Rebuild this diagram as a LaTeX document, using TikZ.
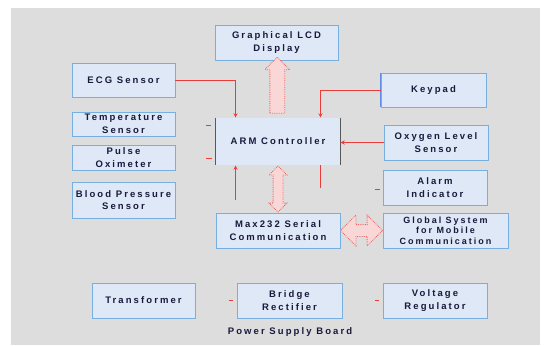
\documentclass[tikz,border=0pt]{standalone}
\usepackage{fontspec}
\setmainfont{Liberation Sans}[LetterSpace=22]
\usetikzlibrary{positioning,calc,shapes.arrows}

\definecolor{boxfill}{RGB}{223,232,246}
\definecolor{boxline}{RGB}{120,175,225}
\definecolor{bggray}{RGB}{221,221,221}
\definecolor{txtnavy}{RGB}{25,25,60}
\definecolor{wirered}{RGB}{235,60,60}
\definecolor{hollowfill}{RGB}{250,215,215}

\begin{document}
\begin{tikzpicture}[
    x=1pt, y=-1pt,
    block/.style={rectangle, draw=boxline, fill=boxfill, line width=0.9pt, align=center, text=txtnavy, font=\bfseries\fontsize{9.5}{12.5}\selectfont, inner sep=1pt},
    link/.style={->, >=stealth, wirered, line width=0.9pt},
    stub/.style={wirered, line width=1.6pt},
    hollow/.style={draw=wirered!80, densely dotted, fill=hollowfill, line width=0.8pt, inner sep=0pt}
]
    % background
    \useasboundingbox (0,0) rectangle (548,345);
    \fill[bggray] (11,8) rectangle (540,345);

    % top row
    \node[block, minimum width=123pt, minimum height=35pt] (lcd) at (276.5,42.5) {Graphical LCD\\Display};

    % sensors on the left
    \node[block, minimum width=103pt, minimum height=34pt] (ecg) at (123.5,80) {ECG Sensor};
    \node[block, minimum width=103pt, minimum height=24pt] (temp) at (123.5,124) {Temperature\\Sensor};
    \node[block, minimum width=103pt, minimum height=25pt] (pulse) at (123.5,157.5) {Pulse\\Oximeter};
    \node[block, minimum width=103pt, minimum height=36pt] (bp) at (123.5,200) {Blood Pressure\\Sensor};

    % controller and serial link
    \node[block, draw=none, minimum width=124pt, minimum height=47pt] (arm) at (278,141.5) {ARM Controller};
    \draw[gray!70!black, line width=1.2pt] (arm.north west) -- (arm.south west);
    \draw[gray!70!black, line width=1.2pt] (arm.north east) -- (arm.south east);
    \node[block, minimum width=124pt, minimum height=35pt] (max) at (278,230.5) {Max232 Serial\\Communication};

    % right column
    \node[block, minimum width=105pt, minimum height=34pt] (keypad) at (433.5,90) {Keypad};
    \draw[boxline!80!blue, line width=1.6pt] (keypad.north west) -- (keypad.south west);
    \node[block, minimum width=104pt, minimum height=35pt] (oxy) at (436,142.5) {Oxygen Level\\Sensor};
    \node[block, minimum width=104pt, minimum height=35pt] (alarm) at (435,187.5) {Alarm\\Indicator};
    \node[block, minimum width=125pt, minimum height=35pt, font=\bfseries\fontsize{9}{10.5}\selectfont] (gsm) at (445.5,230.5) {Global System\\for Mobile\\Communication};

    % power supply
    \node[block, minimum width=103pt, minimum height=35pt] (trans) at (143.5,300.5) {Transformer};
    \node[block, minimum width=105pt, minimum height=35pt] (bridge) at (289.5,300.5) {Bridge\\Rectifier};
    \node[block, minimum width=104pt, minimum height=35pt] (volt) at (435,300.5) {Voltage\\Regulator};
    \node[text=txtnavy, font=\bfseries\fontsize{9.5}{12}\selectfont] (board) at (290,332) {Power Supply Board};

    % wires
    \draw[link] (ecg.east) -| ([xshift=20pt]arm.north west);
    \draw[link] (keypad.west) -| ([xshift=-20pt]arm.north east);
    \draw[link] (oxy.west) -- (oxy.west -| arm.east);
    \draw[link, shorten <=13pt] ([xshift=20pt]max.north west) -- ([xshift=20pt]arm.south west);
    \coordinate (drop) at ($([xshift=-20pt]arm.south east)+(0,23)$);
    \draw[wirered, line width=0.9pt] ([xshift=-20pt]arm.south east) -- (drop);

    % loose wire ends
    \draw[stub] ([xshift=-10pt,yshift=-17pt]arm.west) -- ([xshift=-4pt,yshift=-17pt]arm.west);
    \draw[stub] ([xshift=-10pt,yshift=16pt]arm.west) -- ([xshift=-5pt,yshift=16pt]arm.west);
    \draw[stub] ([xshift=-8pt,yshift=-2pt]alarm.west) -- ([xshift=-3pt,yshift=-2pt]alarm.west);
    \draw[stub] ([xshift=-8pt]bridge.west) -- ([xshift=-4pt]bridge.west);
    \draw[stub] ([xshift=-8pt]volt.west) -- ([xshift=-4pt]volt.west);

    % data buses
    \node[hollow, single arrow, rotate=90, minimum height=56pt,
          single arrow head extend=5pt] (busup) at ($(arm.north)!0.5!(lcd.south)$) {\rule{0pt}{14pt}};
    \node[hollow, double arrow, rotate=90, minimum height=46pt,
          double arrow head extend=4pt] (busser) at ($(arm.south)!0.5!(max.north)$) {\rule{0pt}{9pt}};
    \node[hollow, double arrow, minimum height=42pt,
          double arrow head extend=9.5pt] (busgsm) at ($(max.east)!0.5!(gsm.west)$) {\rule{0pt}{11pt}};
\end{tikzpicture}
\end{document}
